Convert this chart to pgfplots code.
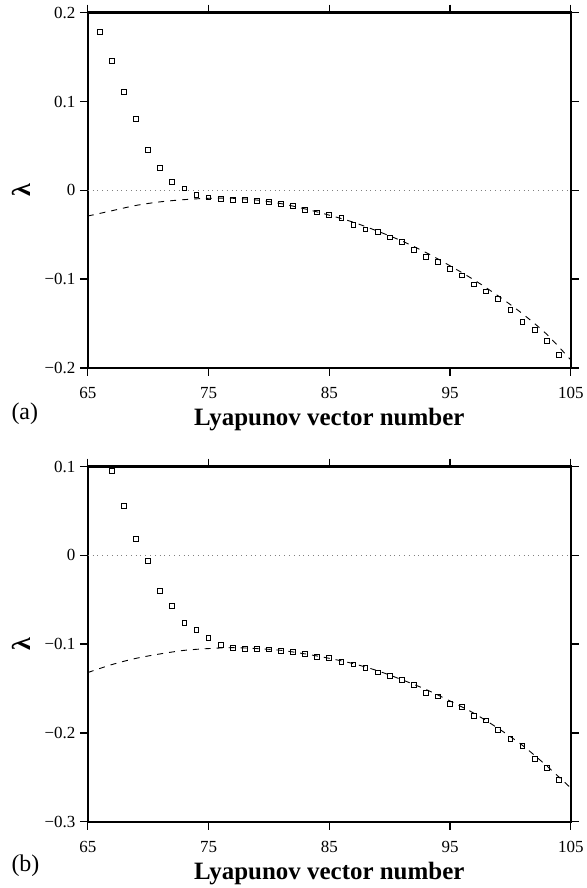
\documentclass[border=0pt]{standalone}
\usepackage{pgfplots}
\pgfplotsset{compat=1.18}
\usepackage{fontspec}
\setmainfont{Liberation Serif}

% panel (a): exponents and fitted curve
\pgfplotstableread{
x y
66 0.178
67 0.146
68 0.111
69 0.080
70 0.045
71 0.025
72 0.009
73 0.002
74 -0.005
75 -0.008
76 -0.010
77 -0.011
78 -0.011
79 -0.012
80 -0.013
81 -0.015
82 -0.018
83 -0.0225
84 -0.025
85 -0.028
86 -0.031
87 -0.039
88 -0.044
89 -0.047
90 -0.053
91 -0.058
92 -0.067
93 -0.075
94 -0.081
95 -0.089
96 -0.096
97 -0.106
98 -0.114
99 -0.122
100 -0.135
101 -0.148
102 -0.157
103 -0.170
104 -0.185
}\ptsa
\pgfplotstableread{
x y
65 -0.029
67 -0.023
69 -0.017
71 -0.013
73 -0.0105
75 -0.009
77 -0.009
79 -0.011
81 -0.015
83 -0.021
85 -0.028
87 -0.036
89 -0.046
91 -0.057
93 -0.070
95 -0.085
97 -0.101
99 -0.119
101 -0.139
103 -0.162
105 -0.191
}\curvea

% panel (b)
\pgfplotstableread{
x y
67 0.095
68 0.056
69 0.018
70 -0.006
71 -0.040
72 -0.057
73 -0.076
74 -0.084
75 -0.093
76 -0.101
77 -0.104
78 -0.105
79 -0.105
80 -0.106
81 -0.108
82 -0.109
83 -0.111
84 -0.114
85 -0.116
86 -0.120
87 -0.123
88 -0.127
89 -0.132
90 -0.136
91 -0.140
92 -0.146
93 -0.155
94 -0.159
95 -0.167
96 -0.171
97 -0.181
98 -0.186
99 -0.197
100 -0.207
101 -0.215
102 -0.229
103 -0.239
104 -0.253
}\ptsb
\pgfplotstableread{
x y
65 -0.132
67 -0.123
69 -0.116
71 -0.111
73 -0.107
75 -0.105
77 -0.104
79 -0.105
81 -0.107
83 -0.111
85 -0.116
87 -0.122
89 -0.130
91 -0.140
93 -0.151
95 -0.164
97 -0.178
99 -0.195
101 -0.214
103 -0.237
105 -0.262
}\curveb

\pgfplotsset{
  lyap/.style={
    scale only axis, width=484pt, height=356pt,
    xmin=65, xmax=105, xtick={65,75,85,95,105},
    xticklabels={65,75,85,95,105},
    every axis/.append style={line width=2.4pt},
    major tick style={black, line width=1.3pt},
    major tick length=8pt,
    tick align=outside,
    tick label style={font=\fontsize{17}{17}\selectfont},
    x tick label style={yshift=-7pt},
    clip=false,
    xlabel={Lyapunov vector number},
    xlabel style={font=\fontsize{25}{25}\selectfont\bfseries,
      at={(axis description cs:0.5,-0.162)}, anchor=base},
    ylabel={\textbf{λ}},
    ylabel style={font=\fontsize{26}{26}\selectfont,
      at={(axis description cs:-0.138,0.5)}, anchor=center},
  },
  lyappts/.style={only marks, mark=square, mark size=2.4pt,
    mark options={line width=0.9pt, black, solid}},
  lyapcurve/.style={black, line width=0.9pt, dash pattern=on 6pt off 6pt, smooth, no marks},
  lyapzero/.style={gray, line width=0.6pt, dash pattern=on 0.8pt off 4pt, no marks},
}

\begin{document}
\begin{tikzpicture}
% (a)
\begin{axis}[lyap, ymin=-0.2, ymax=0.2, ytick={-0.2,-0.1,0,0.1,0.2},
  yticklabels={−0.2,−0.1,0,0.1,0.2}]
\addplot[lyapzero] coordinates {(65,0) (105,0)};
\addplot[lyapcurve] table[x=x,y=y] {\curvea};
\addplot[lyappts] table[x=x,y=y] {\ptsa};
\end{axis}
% (b)
\begin{axis}[lyap, at={(0,-454.8pt)}, ymin=-0.3, ymax=0.1,
  ytick={-0.3,-0.2,-0.1,0,0.1}, yticklabels={−0.3,−0.2,−0.1,0,0.1}]
\addplot[lyapzero] coordinates {(65,0) (105,0)};
\addplot[lyapcurve] table[x=x,y=y] {\curveb};
\addplot[lyappts] table[x=x,y=y] {\ptsb};
\end{axis}
% panel letters
\node[font=\fontsize{24}{24}\selectfont, anchor=base west] at (-80pt,-51.6pt) {(a)};
\node[font=\fontsize{24}{24}\selectfont, anchor=base west] at (-80pt,-504.3pt) {(b)};
% page margins as in the reference
\path (-88pt,368.7pt) rectangle (497pt,-519.3pt);
\end{tikzpicture}
\end{document}
